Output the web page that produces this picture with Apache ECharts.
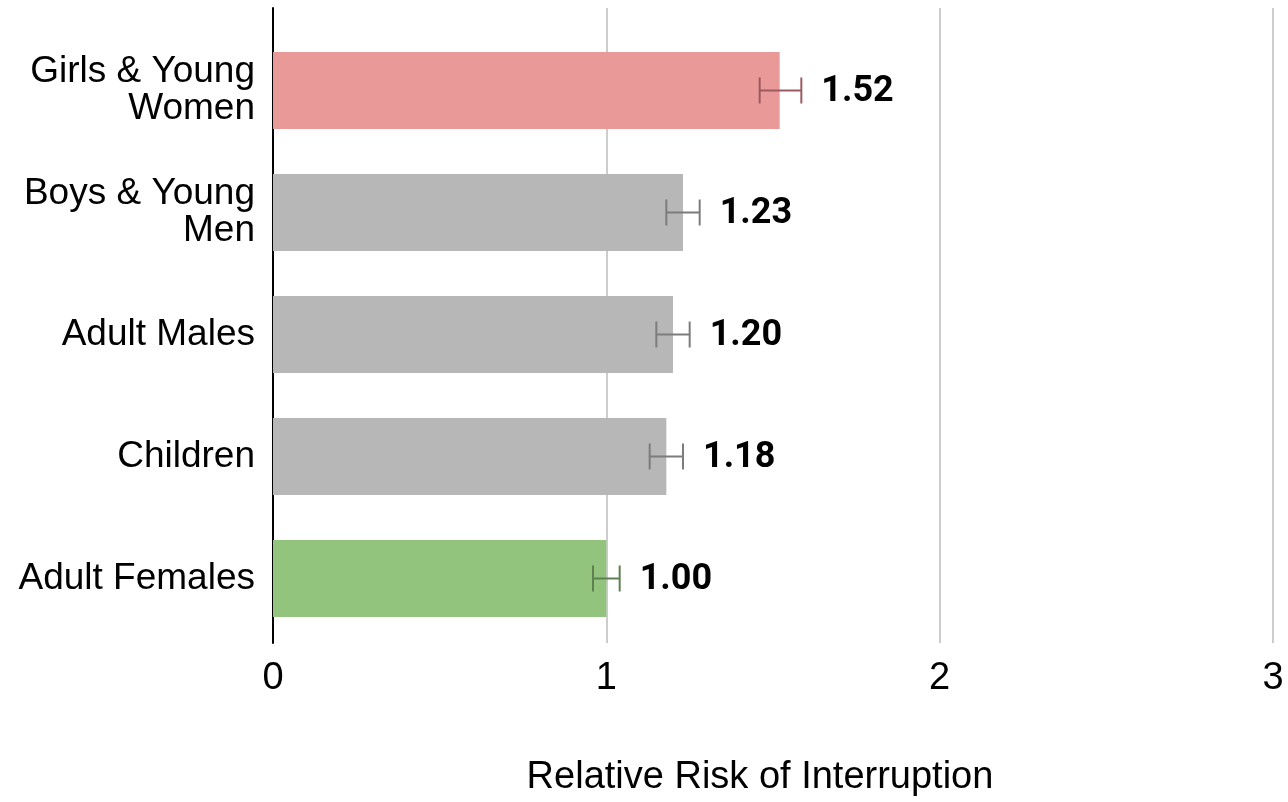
<!DOCTYPE html>
<html>
<head>
<meta charset="utf-8">
<title>Relative Risk of Interruption</title>
<script src="https://cdn.jsdelivr.net/npm/echarts@6/dist/echarts.min.js"></script>
<style>
  html, body { margin: 0; padding: 0; background: #ffffff; }
  #chart { width: 1288px; height: 802px; }
</style>
</head>
<body>
<div id="chart"></div>
<script>
// Groups, top to bottom
const categories = ['Girls & Young\nWomen', 'Boys & Young\nMen', 'Adult Males', 'Children', 'Adult Females'];
// Relative risk per group
const riskValues = [1.52, 1.23, 1.20, 1.18, 1.00];
// Confidence interval bounds
const ciLower = [1.46, 1.18, 1.15, 1.13, 0.96];
const ciUpper = [1.585, 1.28, 1.25, 1.23, 1.04];
// Value axis ticks
const axisTicks = [0, 1, 2, 3];

// Bar fills and matching whisker colours
const barColors = ['#ea9999', '#b7b7b7', '#b7b7b7', '#b7b7b7', '#93c47d'];
const whiskerColors = ['#9c5a60', '#7c7c7c', '#7c7c7c', '#7c7c7c', '#5e7f50'];

const chart = echarts.init(document.getElementById('chart'), null, { renderer: 'canvas' });

const labelFont = '"Liberation Sans", Arial, Helvetica, sans-serif';

const option = {
  backgroundColor: '#ffffff',
  animation: false,
  grid: [
    // frame: gridlines, tick labels, axis title and the vertical axis line
    { left: 273, right: 15, top: 8, bottom: 142, containLabel: false },
    // bars
    { left: 273, right: 15, top: 29.5, height: 610, containLabel: false }
  ],
  xAxis: [
    {
      gridIndex: 0,
      type: 'value',
      min: axisTicks[0],
      max: axisTicks[axisTicks.length - 1],
      interval: 1,
      axisLine: { show: false },
      axisTick: { show: false },
      splitLine: { show: true, lineStyle: { color: '#cccccc', width: 2 } },
      axisLabel: {
        color: '#000000',
        fontFamily: labelFont,
        fontSize: 38,
        margin: 17
      },
      name: 'Relative Risk of Interruption',
      nameLocation: 'middle',
      nameGap: 116,
      nameTextStyle: {
        color: '#000000',
        fontFamily: labelFont,
        fontSize: 38,
        padding: [0, 26, 0, 0]
      }
    },
    {
      gridIndex: 1,
      type: 'value',
      min: axisTicks[0],
      max: axisTicks[axisTicks.length - 1],
      show: false
    }
  ],
  yAxis: [
    {
      gridIndex: 0,
      type: 'value',
      min: 0,
      max: 1,
      axisLine: { show: true, onZero: false, lineStyle: { color: '#000000', width: 2 } },
      axisTick: { show: false },
      axisLabel: { show: false },
      splitLine: { show: false }
    },
    {
      gridIndex: 1,
      type: 'category',
      inverse: true,
      data: categories,
      axisLine: { show: false },
      axisTick: { show: false },
      splitLine: { show: false },
      axisLabel: {
        color: '#000000',
        fontFamily: labelFont,
        fontSize: 37,
        lineHeight: 37,
        margin: 18,
        align: 'right'
      }
    }
  ],
  series: [
    {
      type: 'bar',
      xAxisIndex: 1,
      yAxisIndex: 1,
      barWidth: 77,
      data: riskValues.map((v, i) => ({ value: v, itemStyle: { color: barColors[i] } })),
      z: 2
    },
    {
      // confidence-interval whiskers
      type: 'custom',
      xAxisIndex: 1,
      yAxisIndex: 1,
      z: 3,
      data: riskValues.map((v, i) => [ciLower[i], ciUpper[i], i]),
      renderItem: function (params, api) {
        const idx = api.value(2);
        const lo = api.coord([api.value(0), idx]);
        const hi = api.coord([api.value(1), idx]);
        const half = 13;
        const style = { stroke: whiskerColors[idx], lineWidth: 2 };
        return {
          type: 'group',
          children: [
            { type: 'line', shape: { x1: lo[0], y1: lo[1], x2: hi[0], y2: hi[1] }, style: style },
            { type: 'line', shape: { x1: lo[0], y1: lo[1] - half, x2: lo[0], y2: lo[1] + half }, style: style },
            { type: 'line', shape: { x1: hi[0], y1: hi[1] - half, x2: hi[0], y2: hi[1] + half }, style: style }
          ]
        };
      }
    },
    {
      // value labels beyond the whiskers
      type: 'custom',
      xAxisIndex: 1,
      yAxisIndex: 1,
      z: 4,
      data: riskValues.map((v, i) => [ciUpper[i], v, i]),
      renderItem: function (params, api) {
        const idx = api.value(2);
        const p = api.coord([api.value(0), idx]);
        return {
          type: 'text',
          x: p[0] + 20,
          y: p[1] + 1,
          style: {
            text: api.value(1).toFixed(2),
            fill: '#000000',
            font: 'bold 36px Roboto, "Liberation Sans", Arial, sans-serif',
            align: 'left',
            verticalAlign: 'middle'
          }
        };
      }
    }
  ]
};

chart.setOption(option);
</script>
</body>
</html>
